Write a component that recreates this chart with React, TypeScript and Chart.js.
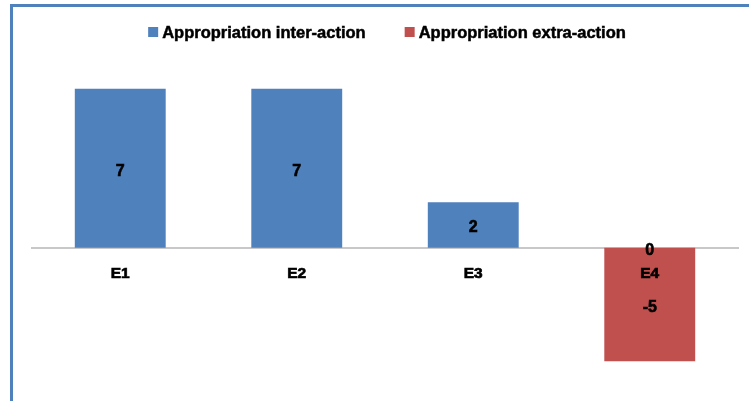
import React, { useEffect, useRef } from 'react';
import { Chart, registerables } from 'chart.js';

Chart.register(...registerables);

const categories = ['E1', 'E2', 'E3', 'E4'];
const interAction = [7, 7, 2, 0];
const extraAction = [null, null, null, -5];
const seriesNames = ['Appropriation inter-action', 'Appropriation extra-action'];
const seriesColors = ['#4F81BD', '#C0504D'];
const yMin = -6;
const yMax = 8;

const FONT = '"Liberation Sans", Arial, sans-serif';

const dataLabelPlugin = {
  id: 'barValueLabels',
  afterDatasetsDraw(chart: any) {
    const ctx = chart.ctx;
    ctx.save();
    ctx.font = `bold 16px ${FONT}`;
    ctx.fillStyle = '#000000';
    ctx.strokeStyle = '#000000';
    ctx.lineWidth = 0.6;
    ctx.textAlign = 'center';
    ctx.textBaseline = 'middle';
    chart.data.datasets.forEach((ds: any, di: number) => {
      const meta = chart.getDatasetMeta(di);
      meta.data.forEach((el: any, i: number) => {
        const v = ds.data[i];
        if (v === null || v === undefined) return;
        const y = (el.y + el.base) / 2 + 3;
        ctx.fillText(String(v), el.x, y);
        ctx.strokeText(String(v), el.x, y);
      });
    });
    ctx.restore();
  },
};

const legendPlugin = {
  id: 'topLegend',
  afterDraw(chart: any) {
    const ctx = chart.ctx;
    const area = chart.chartArea;
    ctx.save();
    ctx.font = `bold 16.5px ${FONT}`;
    ctx.strokeStyle = '#000000';
    ctx.lineWidth = 0.5;
    const box = 10;
    const gapText = 4;
    const gapItem = 39;
    const items = chart.data.datasets.map((ds: any) => ({
      text: ds.label,
      color: ds.backgroundColor,
      w: ctx.measureText(ds.label).width,
    }));
    const total =
      items.reduce((s: number, it: any) => s + box + gapText + it.w, 0) +
      gapItem * (items.length - 1);
    let x = (area.left + area.right) / 2 - total / 2 + 2;
    const y = 32;
    ctx.textAlign = 'left';
    ctx.textBaseline = 'middle';
    items.forEach((it: any) => {
      ctx.fillStyle = it.color;
      ctx.fillRect(x, y - box / 2, box, box);
      ctx.fillStyle = '#000000';
      ctx.fillText(it.text, x + box + gapText, y + 1);
      ctx.strokeText(it.text, x + box + gapText, y + 1);
      x += box + gapText + it.w + gapItem;
    });
    ctx.restore();
  },
};

function BarChart() {
  const ref = useRef<HTMLCanvasElement>(null);
  useEffect(() => {
    if (!ref.current) return;
    const chart = new Chart(ref.current, {
      type: 'bar',
      data: {
        labels: categories,
        datasets: [
          {
            label: seriesNames[0],
            data: interAction,
            backgroundColor: seriesColors[0],
            borderWidth: 0,
            barPercentage: 0.515,
            categoryPercentage: 1,
          },
          {
            label: seriesNames[1],
            data: extraAction as any,
            backgroundColor: seriesColors[1],
            borderWidth: 0,
            barPercentage: 0.515,
            categoryPercentage: 1,
          },
        ],
      },
      options: {
        animation: false,
        responsive: true,
        maintainAspectRatio: false,
        layout: { padding: { left: 32, right: 11, top: 66, bottom: 17 } },
        plugins: {
          legend: { display: false },
          tooltip: { enabled: false },
        },
        scales: {
          x: {
            stacked: true,
            position: { y: 0 } as any,
            grid: { display: false, drawTicks: false },
            border: { display: true, color: '#C8C8C8', width: 2, z: 0 },
            ticks: {
              z: 1,
              padding: 17,
              color: '#000000',
              textStrokeColor: '#000000',
              textStrokeWidth: 0.7,
              font: { family: FONT, size: 15.5, weight: 'bold' },
            } as any,
          },
          y: {
            stacked: true,
            display: false,
            min: yMin,
            max: yMax,
          },
        },
      },
      plugins: [dataLabelPlugin, legendPlugin],
    });
    return () => chart.destroy();
  }, []);
  return <canvas ref={ref} />;
}

export default function App() {
  return (
    <div
      style={{
        position: 'fixed',
        left: 0,
        top: 0,
        width: 749,
        height: 401,
        overflow: 'hidden',
        background: '#ffffff',
      }}
    >
      <div
        style={{
          position: 'absolute',
          left: 10,
          top: 4,
          width: 800,
          height: 450,
          borderLeft: '3px solid #4F81BD',
          borderTop: '3px solid #4F81BD',
        }}
      />
      <div style={{ position: 'absolute', left: 0, top: 0, width: 749, height: 401 }}>
        <BarChart />
      </div>
    </div>
  );
}
